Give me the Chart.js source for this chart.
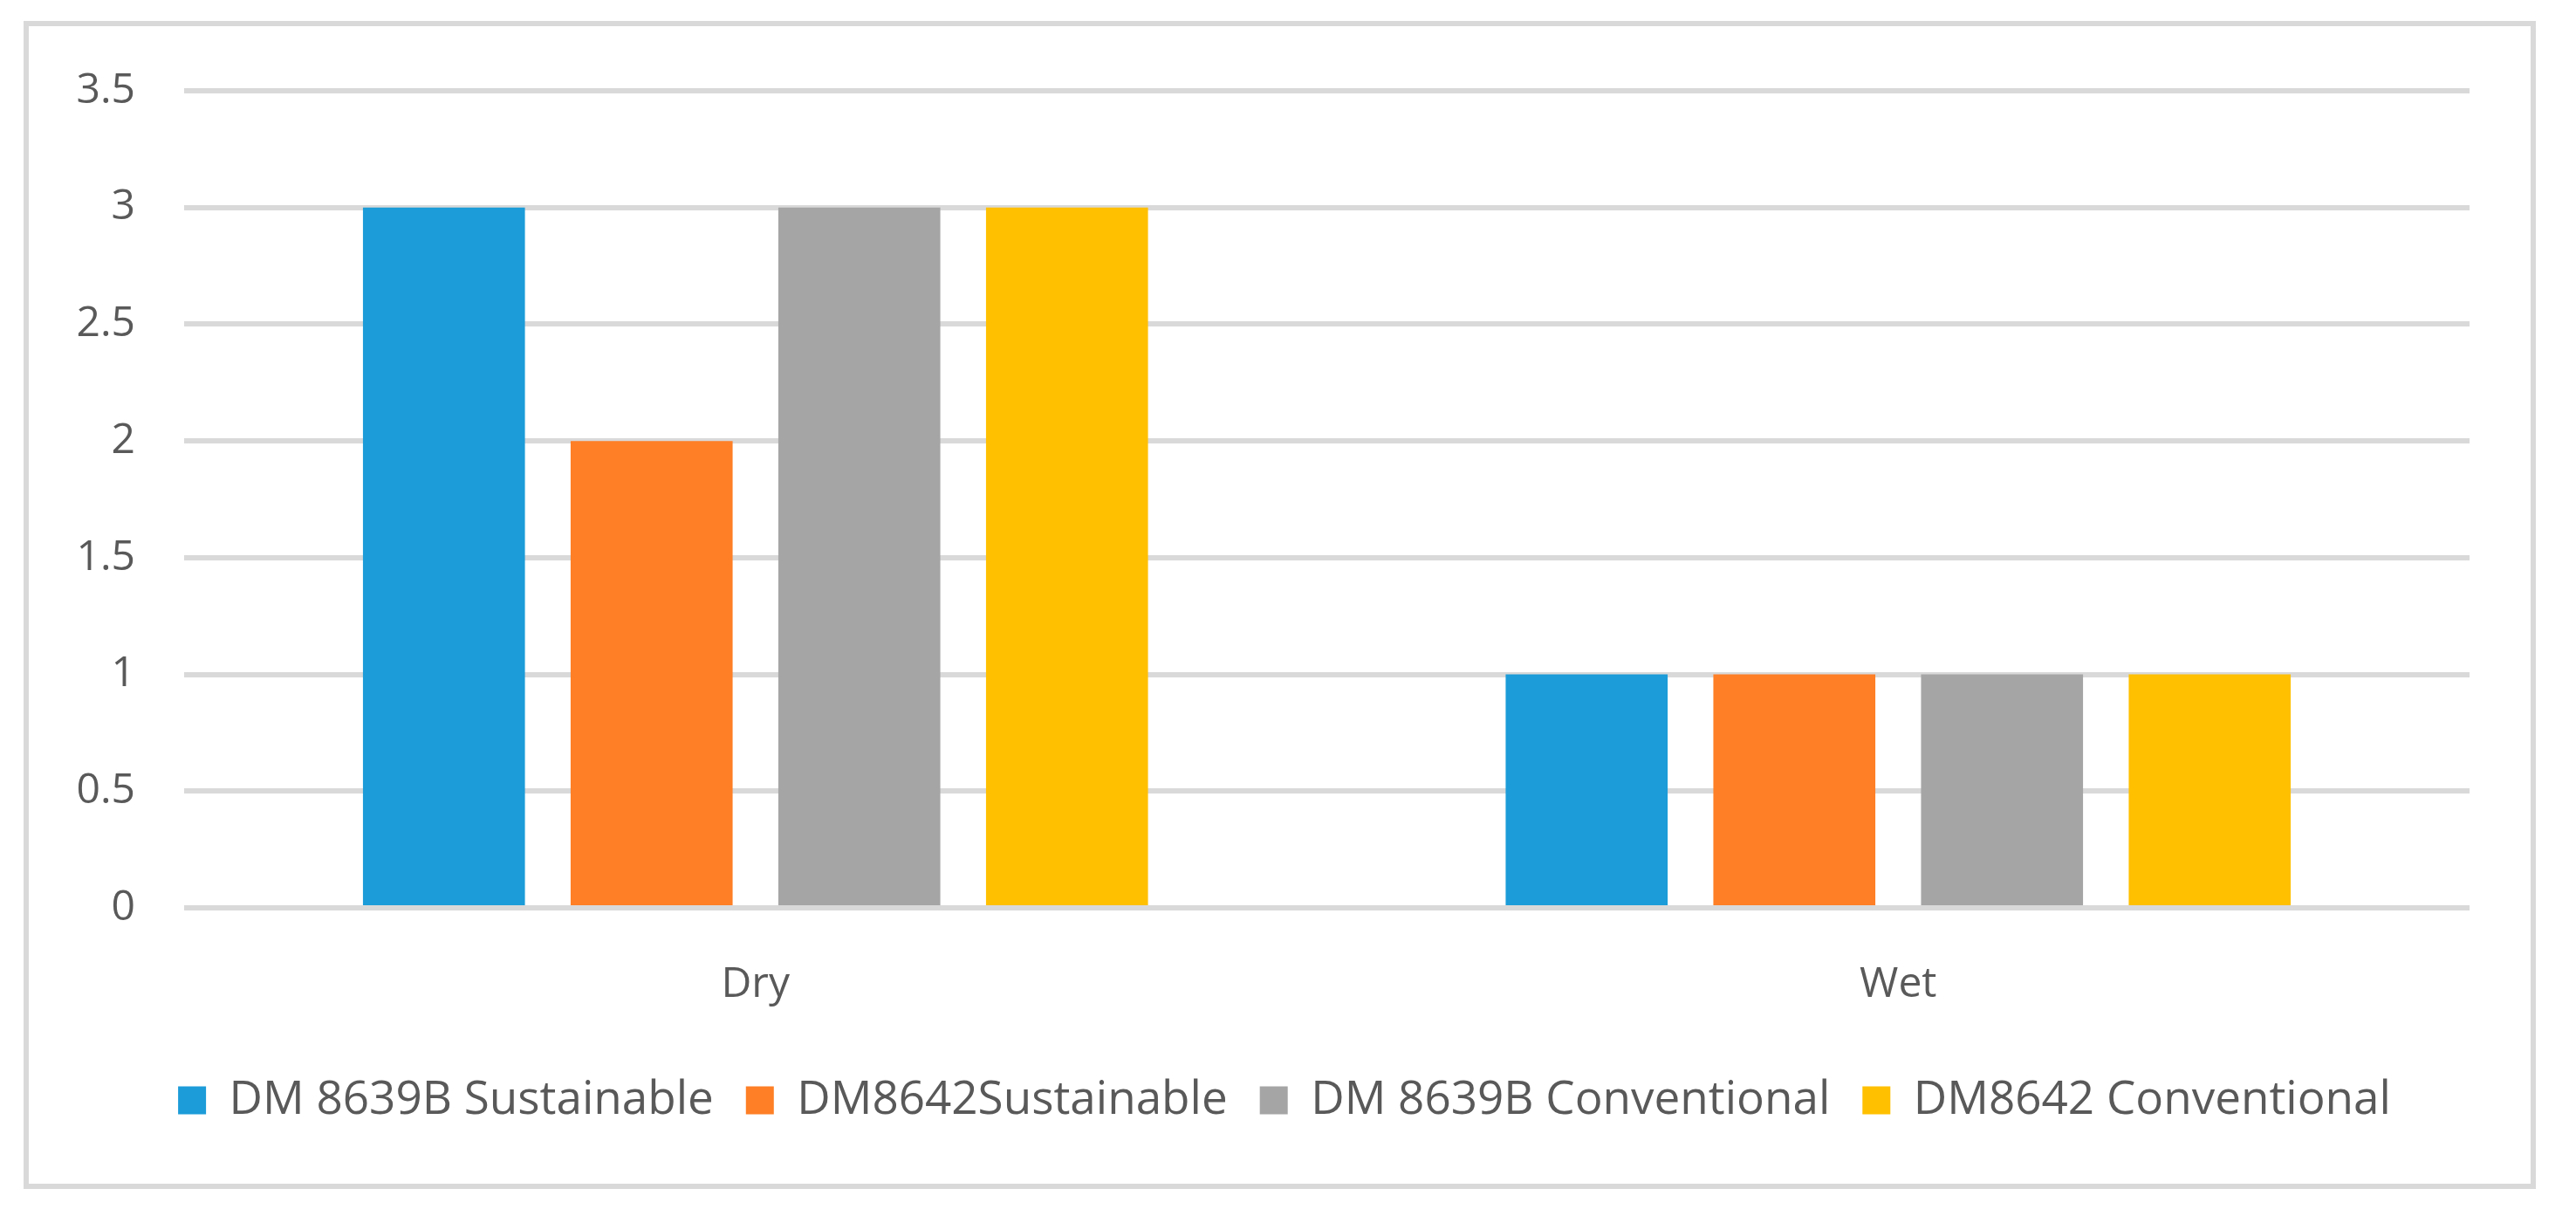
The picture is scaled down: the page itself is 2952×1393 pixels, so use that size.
<!DOCTYPE html>
<html>
<head>
<meta charset="utf-8">
<script src="https://cdn.jsdelivr.net/npm/chart.js@4.4.1/dist/chart.umd.min.js"></script>
<style>
  html, body { margin: 0; padding: 0; background: #ffffff; }
  body { width: 2952px; height: 1393px; position: relative; overflow: hidden; }
  #frame {
    position: absolute; left: 27px; top: 24px; width: 2867px; height: 1326px;
    border: 6px solid #d9d9d9; background: #ffffff;
  }
  #c { display: block; }
</style>
</head>
<body>
<div id="frame"><canvas id="c" width="2867" height="1326"></canvas></div>
<script>
const categories = ["Dry", "Wet"];
const seriesNames = ["DM 8639B Sustainable", "DM8642Sustainable", "DM 8639B Conventional", "DM8642 Conventional"];
const s1 = [3, 1];
const s2 = [2, 1];
const s3 = [3, 1];
const s4 = [3, 1];
const yTicks = [0, 0.5, 1, 1.5, 2, 2.5, 3, 3.5];
const colors = ["#1c9cd8", "#fe7f26", "#a5a5a5", "#ffc000"];

const FONT = "'Open Sans', 'DejaVu Sans', sans-serif";
const seriesValues = [s1, s2, s3, s4];

new Chart(document.getElementById('c'), {
  type: 'bar',
  data: {
    labels: categories,
    datasets: seriesValues.map((v, i) => ({
      label: seriesNames[i],
      data: v,
      backgroundColor: colors[i],
      borderWidth: 0,
      categoryPercentage: 0.727,
      barPercentage: 0.78,
      yAxisID: 'y'
    }))
  },
  options: {
    responsive: false,
    animation: false,
    devicePixelRatio: 1,
    layout: { padding: { top: 74, right: 0, bottom: 59, left: 11 } },
    plugins: {
      legend: {
        position: 'bottom',
        labels: {
          font: { family: FONT, size: 53 },
          color: '#595959',
          boxWidth: 32,
          boxHeight: 32,
          padding: 37
        }
      },
      tooltip: { enabled: false }
    },
    scales: {
      x: {
        grid: { display: false, drawTicks: false },
        border: { display: false },
        ticks: { font: { family: FONT, size: 48 }, color: '#595959', padding: 60 },
        afterFit: (s) => { s.height = 157; }
      },
      y: {
        min: 0, max: 3.5,
        afterBuildTicks: (s) => { s.ticks = yTicks.map(v => ({ value: v })); },
        grid: { color: '#d9d9d9', lineWidth: 6, drawTicks: false },
        border: { display: false },
        ticks: {
          font: { family: FONT, size: 48 }, color: '#595959', padding: 56,
          callback: (v) => String(v)
        },
        afterFit: (s) => { s.width = 167; s.paddingTop = 0; s.paddingBottom = 0; }
      },
      y2: {
        position: 'right',
        display: true,
        grid: { display: false, drawTicks: false },
        border: { display: false },
        ticks: { display: false },
        afterFit: (s) => { s.width = 70; s.paddingTop = 0; s.paddingBottom = 0; }
      }
    }
  }
});
</script>
</body>
</html>
